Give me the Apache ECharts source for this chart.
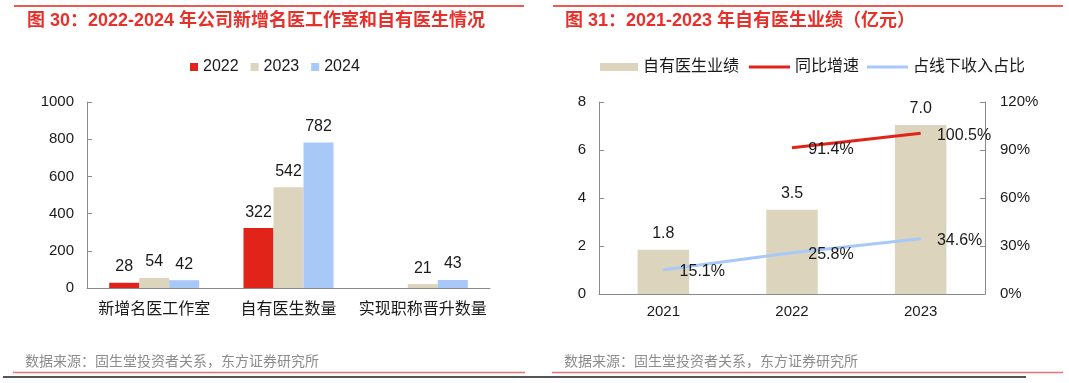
<!DOCTYPE html>
<html>
<head>
<meta charset="utf-8">
<script src="https://cdn.jsdelivr.net/npm/echarts@6/dist/echarts.min.js"></script>
<style>
html,body{margin:0;padding:0;background:#fff;}
#c{width:1069px;height:383px;}
</style>
</head>
<body>
<div id="c"></div>
<script>
// ---- Left chart data ----
var leftCategories = ['新增名医工作室', '自有医生数量', '实现职称晋升数量'];
var leftSeriesNames = ['2022', '2023', '2024'];
var values2022 = [28, 322, null];
var values2023 = [54, 542, 21];
var values2024 = [42, 782, 43];
var leftYTicks = {min: 0, max: 1000, interval: 200};

// ---- Right chart data ----
var rightCategories = ['2021', '2022', '2023'];
var doctorRevenue = [1.84, 3.51, 7.04];      // 亿元
var yoyGrowth = [null, 91.4, 100.5];         // %
var offlineShare = [15.1, 25.8, 34.6];       // %
var rightYTicks = {min: 0, max: 8, interval: 2};
var rightY2Ticks = {min: 0, max: 120, interval: 30};

var titleLeft = '图 30：2022-2024 年公司新增名医工作室和自有医生情况';
var titleRight = '图 31：2021-2023 年自有医生业绩（亿元）';
var sourceText = '数据来源：固生堂投资者关系，东方证券研究所';

var FONT = '"Liberation Sans", Arial, "Noto Sans CJK SC", sans-serif';
var RED = '#E2231A';
var BEIGE = '#DDD4BD';
var BLUE = '#A8C9F8';
var TITLE_RED = '#E8302B';
var AXIS = '#8a8a8a';
var TXT = '#1a1a1a';

var chart = echarts.init(document.getElementById('c'), null, {renderer: 'canvas'});

function barSeries(name, data, color) {
  return {
    name: name, type: 'bar', xAxisIndex: 0, yAxisIndex: 0,
    data: data, barWidth: 30, barGap: '0%',
    itemStyle: {color: color},
    label: {show: true, position: 'top', distance: 8, color: TXT, fontSize: 16, fontFamily: FONT},
    emphasis: {disabled: true}
  };
}

function lineSeries(name, data, color) {
  return {
    name: name, type: 'line', xAxisIndex: 1, yAxisIndex: 2,
    data: data, symbol: 'circle', symbolSize: 0.5, showSymbol: true, connectNulls: false,
    lineStyle: {color: color, width: 3}, itemStyle: {color: color},
    label: {show: true, position: 'right', distance: 16, offset: [0, 2], color: TXT, fontSize: 16, fontFamily: FONT,
      formatter: function (p) { return p.value.toFixed(1) + '%'; }},
    emphasis: {disabled: true}, z: 5
  };
}

var legendText = {fontSize: 16, color: TXT, fontFamily: FONT};

var option = {
  animation: false,
  textStyle: {fontFamily: FONT},
  graphic: [
    {type: 'line', shape: {x1: 14, y1: 6, x2: 524, y2: 6}, style: {stroke: RED, lineWidth: 1.5}},
    {type: 'line', shape: {x1: 553, y1: 6, x2: 1063, y2: 6}, style: {stroke: RED, lineWidth: 1.5}},
    {type: 'text', x: 27, y: 21, style: {text: titleLeft, font: 'bold 18px ' + FONT, fill: TITLE_RED, verticalAlign: 'middle'}},
    {type: 'text', x: 565, y: 21, style: {text: titleRight, font: 'bold 18px ' + FONT, fill: TITLE_RED, verticalAlign: 'middle'}},
    {type: 'text', x: 25, y: 362, style: {text: sourceText, font: '14px ' + FONT, fill: '#8c8c8c', verticalAlign: 'middle'}},
    {type: 'text', x: 564, y: 362, style: {text: sourceText, font: '14px ' + FONT, fill: '#8c8c8c', verticalAlign: 'middle'}},
    {type: 'line', shape: {x1: 13, y1: 372.5, x2: 525, y2: 372.5}, style: {stroke: '#EE7070', lineWidth: 1.5}},
    {type: 'line', shape: {x1: 552, y1: 372.5, x2: 1063, y2: 372.5}, style: {stroke: '#EE7070', lineWidth: 1.5}},
    {type: 'line', shape: {x1: 3, y1: 377, x2: 1026, y2: 377}, style: {stroke: '#555555', lineWidth: 2}}
  ],
  legend: [
    {
      data: leftSeriesNames, left: 190, top: 59, padding: 0, itemWidth: 8, itemHeight: 8, itemGap: 12,
      icon: 'rect', textStyle: legendText, selectedMode: false
    },
    {
      data: ['自有医生业绩'], left: 600, top: 59, padding: 0, itemWidth: 38, itemHeight: 8,
      icon: 'rect', textStyle: legendText, selectedMode: false
    },
    {
      data: [{name: '同比增速', itemStyle: {color: RED}}], left: 749, top: 59, padding: 0, itemWidth: 41, itemHeight: 3,
      icon: 'rect', textStyle: legendText, selectedMode: false
    },
    {
      data: [{name: '占线下收入占比', itemStyle: {color: BLUE}}], left: 867, top: 59, padding: 0, itemWidth: 41, itemHeight: 3,
      icon: 'rect', textStyle: legendText, selectedMode: false
    }
  ],
  grid: [
    {left: 87, top: 102, width: 403, height: 186, containLabel: false},
    {left: 599, top: 102, width: 386, height: 192, containLabel: false}
  ],
  xAxis: [
    {
      type: 'category', gridIndex: 0, data: leftCategories,
      axisLine: {lineStyle: {color: AXIS, width: 1}},
      axisTick: {inside: true, length: 5, lineStyle: {color: AXIS}},
      axisLabel: {interval: 0, color: TXT, fontSize: 16, margin: 14, fontFamily: FONT}
    },
    {
      type: 'category', gridIndex: 1, data: rightCategories,
      axisLine: {lineStyle: {color: AXIS, width: 1}},
      axisTick: {inside: true, length: 5, lineStyle: {color: AXIS}},
      axisLabel: {interval: 0, color: TXT, fontSize: 15, margin: 10, fontFamily: FONT}
    }
  ],
  yAxis: [
    {
      type: 'value', gridIndex: 0, min: leftYTicks.min, max: leftYTicks.max, interval: leftYTicks.interval,
      axisLine: {show: true, lineStyle: {color: AXIS}},
      axisTick: {show: true, inside: true, length: 5, lineStyle: {color: AXIS}},
      splitLine: {show: false},
      axisLabel: {color: TXT, fontSize: 15, margin: 13, fontFamily: FONT, formatter: function (v) { return String(v); }}
    },
    {
      type: 'value', gridIndex: 1, min: rightYTicks.min, max: rightYTicks.max, interval: rightYTicks.interval,
      axisLine: {show: true, lineStyle: {color: AXIS}},
      axisTick: {show: true, inside: true, length: 5, lineStyle: {color: AXIS}},
      splitLine: {show: false},
      axisLabel: {color: TXT, fontSize: 15, margin: 13, fontFamily: FONT}
    },
    {
      type: 'value', gridIndex: 1, position: 'right', min: rightY2Ticks.min, max: rightY2Ticks.max, interval: rightY2Ticks.interval,
      axisLine: {show: true, lineStyle: {color: AXIS}},
      axisTick: {show: true, inside: true, length: 5, lineStyle: {color: AXIS}},
      splitLine: {show: false},
      axisLabel: {color: TXT, fontSize: 15, margin: 15, fontFamily: FONT, formatter: '{value}%'}
    }
  ],
  series: [
    barSeries('2022', values2022, RED),
    barSeries('2023', values2023, BEIGE),
    barSeries('2024', values2024, BLUE),
    {
      name: '自有医生业绩', type: 'bar', xAxisIndex: 1, yAxisIndex: 1,
      data: doctorRevenue, barWidth: '40%',
      itemStyle: {color: BEIGE},
      label: {show: true, position: 'top', distance: 8, color: TXT, fontSize: 16, fontFamily: FONT,
        formatter: function (p) { return p.value.toFixed(1); }},
      emphasis: {disabled: true}
    },
    lineSeries('同比增速', yoyGrowth, RED),
    lineSeries('占线下收入占比', offlineShare, BLUE)
  ]
};
chart.setOption(option);
</script>
</body>
</html>
